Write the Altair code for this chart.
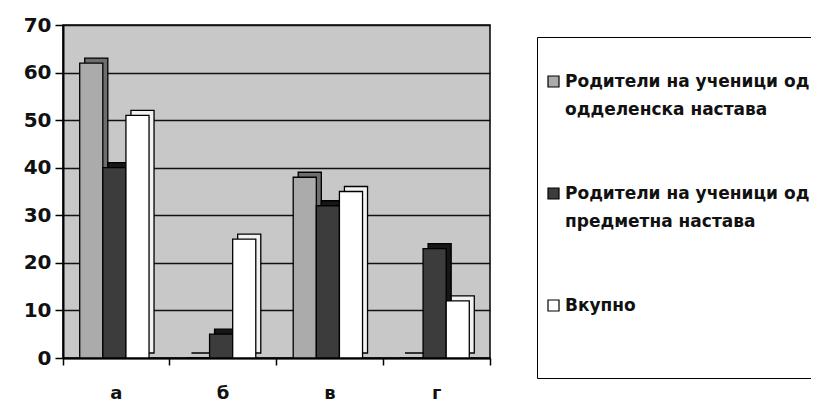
import json
import altair as alt
import pandas as pd

categories = ["а", "б", "в", "г"]
series = [
    "Родители на ученици од одделенска настава",
    "Родители на ученици од предметна настава",
    "Вкупно",
]
legend_lines = [
    ["Родители на ученици од", "одделенска настава"],
    ["Родители на ученици од", "предметна настава"],
    ["Вкупно", "", ""],
]
values_s1 = [62, 0, 38, 0]
values_s2 = [40, 5, 32, 23]
values_s3 = [51, 25, 35, 12]
front_colors = ["#ababab", "#3c3c3c", "#ffffff"]
depth_colors = ["#6e6e6e", "#161616", "#f2f2f2"]

rows = []
for i, c in enumerate(categories):
    for s, vals in zip(series, [values_s1, values_s2, values_s3]):
        rows.append({"cat": c, "series": s, "value": vals[i]})
df = pd.DataFrame(rows)

label_expr = ""
for s, lines in zip(series, legend_lines):
    label_expr += f"datum.value == {json.dumps(s, ensure_ascii=False)} ? {json.dumps(lines, ensure_ascii=False)} : "
label_expr += "datum.label"

FONT = "DejaVu Sans"
W, H = 427, 333
STEP = W / len(categories)

x_enc = alt.X(
    "cat:N",
    sort=categories,
    scale=alt.Scale(paddingInner=0, paddingOuter=0),
    axis=alt.Axis(
        title=None,
        labelAngle=0,
        bandPosition=1,
        tickExtra=True,
        tickSize=7,
        tickWidth=1.5,
        tickColor="black",
        domainColor="black",
        domainWidth=2,
        labelPadding=19,
        labelFont=FONT,
        labelFontWeight="bold",
        labelFontSize=18,
        labelColor="#111111",
        grid=False,
    ),
)
y_enc = alt.Y(
    "value:Q",
    scale=alt.Scale(domain=[0, 70], nice=False),
    axis=alt.Axis(
        title=None,
        values=[0, 10, 20, 30, 40, 50, 60, 70],
        tickSize=8,
        tickWidth=1.5,
        tickColor="black",
        domainColor="black",
        domainWidth=2,
        labelPadding=4,
        labelFont=FONT,
        labelFontWeight="bold",
        labelFontSize=20,
        labelColor="#111111",
        grid=True,
        gridColor="#111111",
        gridWidth=1.6,
    ),
)

depth_layers = []
for s, dc in zip(series, depth_colors):
    depth_layers.append(
        alt.Chart(df)
        .transform_filter(alt.datum.series == s)
        .mark_bar(yOffset=-5, stroke="black", strokeWidth=1.3, color=dc)
        .encode(
            x=x_enc,
            y=y_enc,
            xOffset=alt.XOffset(
                "series:N",
                scale=alt.Scale(domain=series, paddingInner=0, paddingOuter=0.81,
                                range=[3, STEP + 3]),
            ),
        )
    )

front = alt.Chart(df).mark_bar(
    stroke="black", strokeWidth=1.3
).encode(
    x=x_enc,
    y=y_enc,
    xOffset=alt.XOffset(
        "series:N",
        scale=alt.Scale(domain=series, paddingInner=0, paddingOuter=0.81,
                        range=[-2, STEP - 2]),
    ),
    color=alt.Color(
        "series:N",
        sort=series,
        scale=alt.Scale(domain=series, range=front_colors),
        legend=alt.Legend(
            orient="none",
            legendX=474,
            legendY=12,
            title=" ",
            titleFontSize=11,
            titlePadding=17,
            symbolType="square",
            symbolSize=121,
            symbolStrokeColor="black",
            symbolStrokeWidth=1.2,
            symbolOffset=0,
            labelOffset=3,
            labelFont=FONT,
            labelFontWeight="bold",
            labelFontSize=17,
            labelColor="#111111",
            labelBaseline="middle",
            labelLimit=400,
            labelExpr=label_expr,
            rowPadding=66,
            padding=8,
            strokeColor="black",
            fillColor="white",
        ),
    ),
)

chart = (
    alt.layer(*depth_layers, front)
    .resolve_scale(xOffset="independent")
    .properties(
        width=W,
        height=H,
        autosize=alt.AutoSizeParams(type="none"),
        padding={"left": 55, "top": 17, "right": 321, "bottom": 43},
        background="white",
    )
    .configure(
        view=alt.ViewConfig(fill="#c8c8c8", stroke="black", strokeWidth=1.5),
        style={"guide-label": {"lineHeight": 28}},
    )
)

chart.save("out.html", embed_options={"renderer": "svg", "actions": False})
